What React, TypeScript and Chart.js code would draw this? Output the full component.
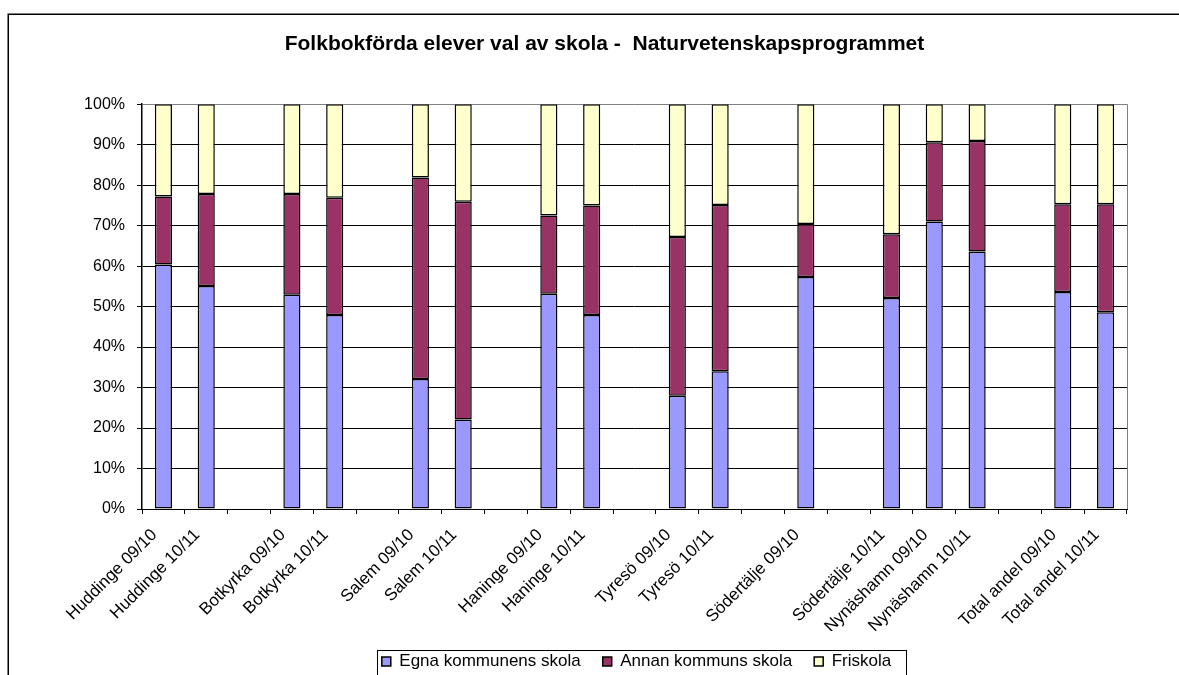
import React, { useEffect, useRef } from 'react';
import { Chart, registerables } from 'chart.js';

Chart.register(...registerables);

const chartTitle = 'Folkbokförda elever val av skola -  Naturvetenskapsprogrammet';

const categories = [
  'Huddinge 09/10', 'Huddinge 10/11', '',
  'Botkyrka 09/10', 'Botkyrka 10/11', '',
  'Salem 09/10', 'Salem 10/11', '',
  'Haninge 09/10', 'Haninge 10/11', '',
  'Tyresö 09/10', 'Tyresö 10/11', '',
  'Södertälje 09/10', '', 'Södertälje 10/11',
  'Nynäshamn 09/10', 'Nynäshamn 10/11', '',
  'Total andel 09/10', 'Total andel 10/11',
];

const seriesNames = ['Egna kommunens skola', 'Annan kommuns skola', 'Friskola'];

const egnaKommunensSkola = [60.4, 55.1, null, 52.9, 47.9, null, 32.1, 22.1, null, 53.2, 47.9, null, 28.0, 34.0, null, 57.3, null, 52.1, 71.0, 63.6, null, 53.6, 48.6];
const annanKommunsSkola = [16.8, 22.7, null, 24.9, 29.0, null, 49.8, 53.8, null, 19.3, 27.1, null, 39.2, 41.1, null, 13.1, null, 15.8, 19.6, 27.3, null, 21.7, 26.7];
const friskola = [22.8, 22.2, null, 22.2, 23.1, null, 18.1, 24.1, null, 27.5, 25.0, null, 32.8, 24.9, null, 29.6, null, 32.1, 9.4, 9.1, null, 24.7, 24.7];

const yMin = 0;
const yMax = 100;
const yStep = 10;

const FONT = "'Liberation Sans', Arial, sans-serif";

const framePlugin = {
  id: 'framePlugin',
  beforeDraw(chart: any) {
    const ctx = chart.ctx;
    ctx.save();
    ctx.fillStyle = '#ffffff';
    ctx.fillRect(0, 0, chart.width, chart.height);
    ctx.strokeStyle = '#000000';
    ctx.lineWidth = 1.5;
    ctx.beginPath();
    ctx.moveTo(8.25, chart.height + 5);
    ctx.lineTo(8.25, 14.25);
    ctx.lineTo(chart.width + 5, 14.25);
    ctx.stroke();
    ctx.restore();
  },
  beforeDatasetsDraw(chart: any) {
    const { ctx, chartArea } = chart;
    ctx.save();
    ctx.strokeStyle = '#808080';
    ctx.lineWidth = 1;
    ctx.beginPath();
    ctx.moveTo(Math.round(chartArea.right) + 0.5, chartArea.top);
    ctx.lineTo(Math.round(chartArea.right) + 0.5, chartArea.bottom);
    ctx.stroke();
    ctx.restore();
  },
  afterLayout(chart: any) {
    const lg = chart.legend;
    if (!lg) return;
    const d = 636.5 - (lg.left + lg.right) / 2;
    lg.left += d;
    lg.right += d;
  },
  afterDraw(chart: any) {
    const lg = chart.legend;
    if (!lg || !lg.legendHitBoxes || !lg.legendHitBoxes.length) return;
    const hb = lg.legendHitBoxes;
    const first = hb[0];
    const last = hb[hb.length - 1];
    const left = Math.round(first.left - 5) + 0.5;
    const right = Math.round(last.left + last.width + 15) + 0.5;
    const top = Math.round(first.top - 3) + 0.5;
    const bottom = Math.round(first.top + first.height + 8) + 0.5;
    const ctx = chart.ctx;
    ctx.save();
    ctx.strokeStyle = '#000000';
    ctx.lineWidth = 1;
    ctx.strokeRect(left, top, right - left, bottom - top);
    ctx.restore();
  },
};

export default function App() {
  const canvasRef = useRef<HTMLCanvasElement | null>(null);

  useEffect(() => {
    if (!canvasRef.current) return;
    const common = { borderColor: '#000000', borderWidth: 1.5, borderSkipped: false };
    const chart = new Chart(canvasRef.current, {
      type: 'bar',
      data: {
        labels: categories,
        datasets: [
          { label: seriesNames[0], data: egnaKommunensSkola, backgroundColor: '#9999FF', ...common },
          { label: seriesNames[1], data: annanKommunsSkola, backgroundColor: '#993366', ...common },
          { label: seriesNames[2], data: friskola, backgroundColor: '#FFFFCC', ...common },
        ],
      },
      plugins: [framePlugin],
      options: {
        responsive: false,
        animation: false,
        events: [],
        datasets: { bar: { categoryPercentage: 1, barPercentage: 0.4 } },
        layout: { padding: { left: 82, right: 52, top: 0, bottom: 0 } },
        plugins: {
          title: {
            display: true,
            text: chartTitle,
            color: '#000000',
            font: { family: FONT, size: 21, weight: 'bold', lineHeight: 1.2 },
            padding: { top: 32, bottom: 47 },
          },
          legend: {
            display: true,
            position: 'bottom',
            labels: {
              color: '#000000',
              font: { family: FONT, size: 17 },
              boxWidth: 9,
              boxHeight: 9,
              padding: 22,
            },
          },
          tooltip: { enabled: false },
        },
        scales: {
          x: {
            stacked: true,
            offset: true,
            grid: { display: true, drawOnChartArea: false, drawTicks: true, tickLength: 5, color: '#000000', offset: true },
            border: { display: true, color: '#000000', width: 1 },
            ticks: {
              autoSkip: false,
              maxRotation: 45,
              minRotation: 45,
              color: '#000000',
              font: { family: FONT, size: 17 },
              padding: 11,
              labelOffset: -9,
            },
            afterFit(scale: any) { scale.height = 122; },
          },
          y: {
            stacked: true,
            min: yMin,
            max: yMax,
            grid: {
              color: (c: any) => (c.tick && c.tick.value === yMax ? '#808080' : '#000000'),
              tickColor: '#000000',
              tickLength: 5,
              drawTicks: true,
            },
            border: { display: true, color: '#000000', width: 1.5 },
            ticks: {
              stepSize: yStep,
              color: '#000000',
              font: { family: FONT, size: 16 },
              padding: 12,
              callback: (v: any) => `${v}%`,
            },
            afterFit(scale: any) { scale.width = 60; },
          },
        },
      },
    } as any);
    return () => chart.destroy();
  }, []);

  return (
    <div style={{ position: 'fixed', left: 0, top: 0, width: 1179, height: 675, overflow: 'hidden', background: '#ffffff' }}>
      <canvas ref={canvasRef} width={1179} height={680} style={{ display: 'block' }} />
    </div>
  );
}
